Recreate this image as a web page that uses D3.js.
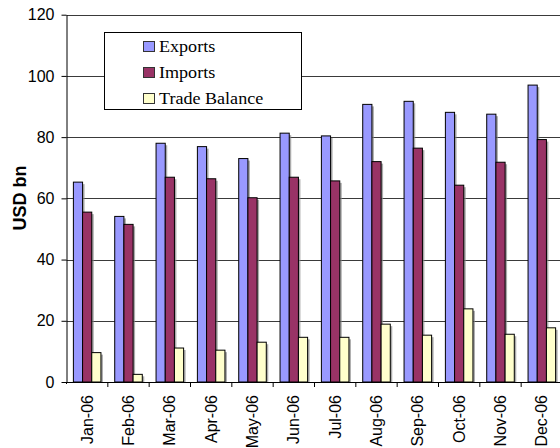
<!DOCTYPE html>
<html>
<head>
<meta charset="utf-8">
<script src="https://cdn.jsdelivr.net/npm/d3@7"></script>
<style>
html,body{margin:0;padding:0;background:#fff;overflow:hidden;}
</style>
</head>
<body>
<svg id="chart" width="560" height="448"></svg>
<script>
const months = ["Jan-06","Feb-06","Mar-06","Apr-06","May-06","Jun-06","Jul-06","Aug-06","Sep-06","Oct-06","Nov-06","Dec-06"];
const seriesNames = ["Exports","Imports","Trade Balance"];
const exportsVals = [65.3,54.1,78.0,76.9,73.0,81.3,80.4,90.7,91.7,88.1,87.5,97.0];
const importsVals = [55.5,51.5,66.9,66.4,60.2,66.9,65.7,72.0,76.4,64.3,71.8,79.2];
const balanceVals = [9.6,2.5,11.1,10.4,13.0,14.6,14.6,18.9,15.3,23.9,15.6,17.7];
const yTicks = [0,20,40,60,80,100,120];
const colors = ["#9999FF","#993366","#FFFFCC"];

const seriesVals = [exportsVals, importsVals, balanceVals];
const svg = d3.select("#chart");
const pLeft = 66.5, pRight = 562.5, pTop = 14.7, pBottom = 382;

const x = d3.scaleBand().domain(months).range([pLeft, pRight]).padding(0);
const x1 = d3.scaleBand().domain(seriesNames).range([0, x.bandwidth()]).paddingInner(0).paddingOuter(0.75);
const y = d3.scaleLinear().domain([0,120]).range([pBottom, pTop]);

// gridlines
svg.append("g").selectAll("line").data(yTicks.filter(d=>d>0)).join("line")
  .attr("x1", pLeft).attr("x2", 560)
  .attr("y1", d=>Math.round(y(d))+0.5).attr("y2", d=>Math.round(y(d))+0.5)
  .attr("stroke","#3a3a3a").attr("stroke-width",1);

// bars
const data = [];
months.forEach((m,i)=>seriesNames.forEach((s,j)=>data.push({m, s, v: seriesVals[j][i], c: colors[j]})));
const gb = svg.append("g");
gb.selectAll("rect.shadow").data(data).join("rect").attr("class","shadow")
  .attr("x", d=>x(d.m)+x1(d.s)+2).attr("y", d=>y(d.v)+2)
  .attr("width", x1.bandwidth()).attr("height", d=>pBottom-y(d.v)-2)
  .attr("fill","#888").attr("opacity",0.7);
gb.selectAll("rect.bar").data(data).join("rect").attr("class","bar")
  .attr("x", d=>x(d.m)+x1(d.s)).attr("y", d=>y(d.v))
  .attr("width", x1.bandwidth()).attr("height", d=>pBottom-y(d.v))
  .attr("fill", d=>d.c).attr("stroke","#000").attr("stroke-width",1);

// y axis
const ya = svg.append("g").attr("transform",`translate(${pLeft},0)`)
  .call(d3.axisLeft(y).tickValues(yTicks).tickSize(5).tickSizeOuter(0).tickPadding(7));
ya.select(".domain").attr("stroke","#000");
ya.selectAll("line").attr("stroke","#000");
ya.selectAll("text").attr("font-family","Liberation Sans, Arial, sans-serif").attr("font-size","16px").attr("fill","#000");

// x axis
const xa = svg.append("g").attr("transform",`translate(0,${pBottom})`)
  .call(d3.axisBottom(x).tickSize(0).tickSizeOuter(0));
xa.select(".domain").attr("stroke","#000");
xa.selectAll(".tick text")
  .attr("font-family","Liberation Sans, Arial, sans-serif").attr("font-size","16px").attr("fill","#000")
  .attr("transform","rotate(-90)").attr("text-anchor","end")
  .attr("x",-13).attr("y",0).attr("dy","0.35em");
// category separator ticks
svg.append("g").selectAll("line").data(months).join("line")
  .attr("x1", d=>x(d)+x.bandwidth()).attr("x2", d=>x(d)+x.bandwidth())
  .attr("y1", pBottom).attr("y2", pBottom+5).attr("stroke","#000");
svg.append("line").attr("x1",pLeft).attr("x2",pLeft).attr("y1",pBottom).attr("y2",pBottom+2).attr("stroke","#000");

// y title
svg.append("text").attr("transform","translate(26,198) rotate(-90)")
  .attr("text-anchor","middle")
  .attr("font-family","Liberation Sans, Arial, sans-serif").attr("font-size","18px").attr("font-weight","bold")
  .text("USD bn");

// legend
const lg = svg.append("g");
lg.append("rect").attr("x",104.5).attr("y",32.5).attr("width",197).attr("height",77)
  .attr("fill","#fff").attr("stroke","#000");
seriesNames.forEach((s,i)=>{
  const cy = 46 + i*26;
  lg.append("rect").attr("x",143.5).attr("y",cy-4.5).attr("width",11).attr("height",10)
    .attr("fill",colors[i]).attr("stroke","#333");
  lg.append("text").attr("transform",`translate(159,${cy+5.5}) scale(1.13,1)`)
    .attr("font-family","Liberation Serif, Times New Roman, serif").attr("font-size","16px")
    .text(s);
});
</script>
</body>
</html>
